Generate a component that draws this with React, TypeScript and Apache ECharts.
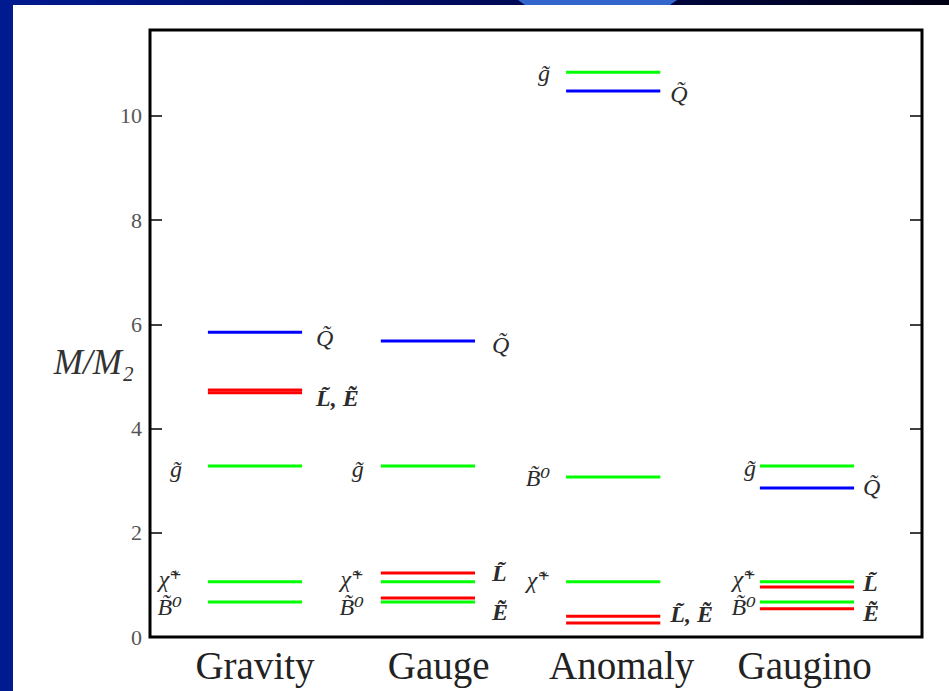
import React, { useEffect, useRef } from "react";
import * as echarts from "echarts";

// ---- data ----
const categories = ["Gravity", "Gauge", "Anomaly", "Gaugino"];
const levelCenters = [1.36, 3.6, 6.0, 8.51];
const labelCenters = [1.36, 3.74, 6.11, 8.48];
const yTicks = [0, 2, 4, 6, 8, 10];
const gluino = [3.28, 3.28, 10.84, 3.28];
const chargino = [1.06, 1.06, 1.06, 1.06];
const bino = [0.67, 0.67, 3.07, 0.67];
const squark = [5.85, 5.68, 10.48, 2.86];
const sleptonL = [4.74, 1.23, 0.4, 0.96];
const sleptonE = [4.69, 0.75, 0.27, 0.54];

const gluinoText = ["g̃", "g̃", "g̃", "g̃"];
const charginoText = ["χ̃⁺", "χ̃⁺", "χ̃⁺", "χ̃⁺"];
const binoText = ["B̃⁰", "B̃⁰", "B̃⁰", "B̃⁰"];
const squarkText = ["Q̃", "Q̃", "Q̃", "Q̃"];
const sleptonLText = ["L̃, Ẽ", "L̃", "L̃, Ẽ", "L̃"];
const sleptonEText = ["", "Ẽ", "", "Ẽ"];
const yAxisTitle = "M/M₂";

// ---- styling / layout ----
const HALF = 0.61;
const GREEN = "#00ff00";
const BLUE = "#0000ff";
const RED = "#ff0000";
const SERIF = "'Liberation Serif', 'DejaVu Serif', serif";
const leftGap = [26, 17, 16, 4];
const rightGap = [14, 17, 10, 9];

type Spec = {
  name: string;
  values: number[];
  texts: string[];
  color: string;
  side: "left" | "right";
  dy: number[];
  bold?: boolean;
};

const specs: Spec[] = [
  { name: "bino", values: bino, texts: binoText, color: GREEN, side: "left", dy: [5, 5, 1, 5] },
  { name: "chargino", values: chargino, texts: charginoText, color: GREEN, side: "left", dy: [-3, -3, -2, -3] },
  { name: "gluino", values: gluino, texts: gluinoText, color: GREEN, side: "left", dy: [3, 3, 1, 2] },
  { name: "squark", values: squark, texts: squarkText, color: BLUE, side: "right", dy: [6, 4, 3, -1] },
  { name: "sleptonE", values: sleptonE, texts: sleptonEText, color: RED, side: "right", dy: [0, 14, 0, 4], bold: true },
  { name: "sleptonL", values: sleptonL, texts: sleptonLText, color: RED, side: "right", dy: [8, 0, -2, -4], bold: true },
];

export default function App() {
  const ref = useRef<HTMLDivElement>(null);

  useEffect(() => {
    if (!ref.current) return;
    const chart = echarts.init(ref.current, undefined, { renderer: "svg" });

    const series = specs.map((s) => ({
      type: "custom" as const,
      name: s.name,
      coordinateSystem: "cartesian2d",
      xAxisIndex: 0,
      yAxisIndex: 0,
      data: s.values.map((v, i) => [i, v]),
      renderItem: (params: any, api: any) => {
        const cat = api.value(0) as number;
        const v = api.value(1) as number;
        const c = levelCenters[cat];
        const p0 = api.coord([c - HALF, v]);
        const p1 = api.coord([c + HALF, v]);
        const children: any[] = [
          {
            type: "line",
            shape: { x1: p0[0], y1: p0[1], x2: p1[0], y2: p1[1] },
            style: { stroke: s.color, lineWidth: 3 },
          },
        ];
        const txt = s.texts[cat];
        if (txt) {
          const left = s.side === "left";
          children.push({
            type: "text",
            x: left ? p0[0] - leftGap[cat] : p1[0] + rightGap[cat],
            y: p0[1] + s.dy[cat],
            style: {
              text: txt,
              fill: "#2b2b2b",
              fontFamily: SERIF,
              fontSize: 24,
              fontStyle: "italic",
              fontWeight: s.bold ? "bold" : "normal",
              align: left ? "right" : "left",
              verticalAlign: "middle",
            },
          });
        }
        return { type: "group", children };
      },
    }));

    chart.setOption({
      animation: false,
      backgroundColor: "#ffffff",
      graphic: [
        {
          type: "rect",
          shape: { x: 0, y: 0, width: 949, height: 5 },
          style: {
            fill: new echarts.graphic.LinearGradient(0, 0, 1, 0, [
              { offset: 0, color: "#001a8f" },
              { offset: 0.5, color: "#000a5a" },
              { offset: 1, color: "#000014" },
            ]),
          },
        },
        {
          type: "polygon",
          shape: { points: [[518, 0], [677, 0], [670, 5], [525, 5]] },
          style: { fill: "#3366cc" },
        },
        {
          type: "rect",
          shape: { x: 0, y: 0, width: 13, height: 691 },
          style: { fill: "#001a8f" },
        },
        {
          type: "text",
          x: 134,
          y: 362,
          style: {
            text: yAxisTitle,
            fontFamily: SERIF,
            fontStyle: "italic",
            fontSize: 35,
            fill: "#333",
            align: "right",
            verticalAlign: "middle",
          },
        },
      ],
      grid: {
        left: 150,
        right: 27,
        top: 30,
        bottom: 54,
        show: true,
        borderColor: "#000",
        borderWidth: 3,
        backgroundColor: "transparent",
      },
      xAxis: {
        type: "value",
        min: 0,
        max: 10,
        axisLine: { show: false },
        axisTick: { show: false },
        splitLine: { show: false },
        axisLabel: {
          customValues: labelCenters,
          formatter: (val: number) => {
            const i = labelCenters.indexOf(val);
            return i >= 0 ? categories[i] : "";
          },
          fontFamily: SERIF,
          fontSize: 39,
          color: "#222",
          margin: 9,
        },
      },
      yAxis: [
        {
          type: "value",
          min: 0,
          max: 11.65,
          interval: 2,
          position: "left",
          axisLine: { show: false },
          splitLine: { show: false },
          axisTick: {
            inside: true,
            length: 12,
            lineStyle: { color: "#000", width: 1.5 },
          },
          axisLabel: {
            showMaxLabel: false,
            formatter: (v: number) => (yTicks.includes(v) ? String(v) : ""),
            fontFamily: SERIF,
            fontSize: 22,
            color: "#555",
            margin: 8,
          },
        },
        {
          type: "value",
          min: 0,
          max: 11.65,
          interval: 2,
          position: "right",
          axisLine: { show: false },
          splitLine: { show: false },
          axisTick: {
            inside: true,
            length: 12,
            lineStyle: { color: "#000", width: 1.5 },
          },
          axisLabel: { show: false },
        },
      ],
      series,
    });

    return () => chart.dispose();
  }, []);

  return (
    <div
      ref={ref}
      style={{ position: "absolute", left: 0, top: 0, width: 949, height: 691, background: "#fff" }}
    />
  );
}
